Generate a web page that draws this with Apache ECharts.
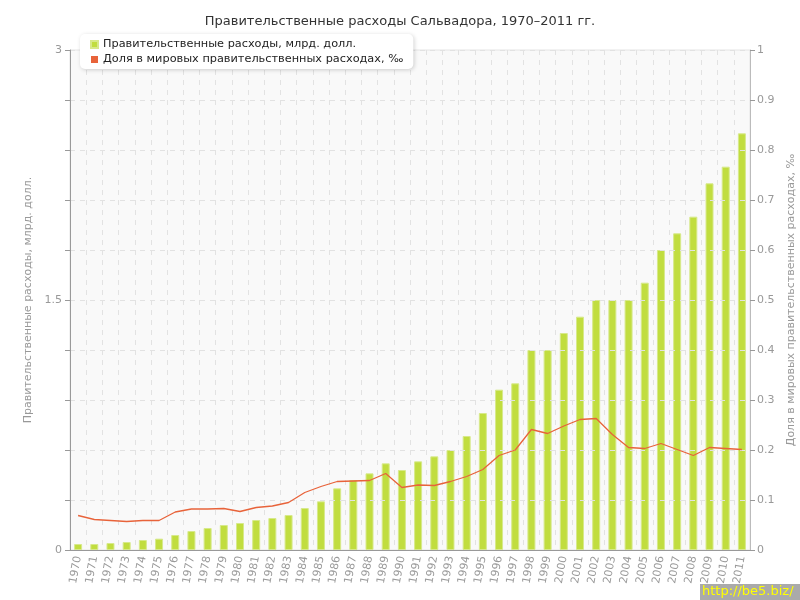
<!DOCTYPE html>
<html>
<head>
<meta charset="utf-8">
<script src="https://cdn.jsdelivr.net/npm/echarts@6/dist/echarts.min.js"></script>
<style>html,body{margin:0;padding:0;background:#fff}#c{width:800px;height:600px}</style>
</head>
<body>
<div id="c"></div>
<script>
var years = ['1970','1971','1972','1973','1974','1975','1976','1977','1978','1979',
             '1980','1981','1982','1983','1984','1985','1986','1987','1988','1989',
             '1990','1991','1992','1993','1994','1995','1996','1997','1998','1999',
             '2000','2001','2002','2003','2004','2005','2006','2007','2008','2009',
             '2010','2011'];
var spending = [0.036,0.036,0.042,0.048,0.06,0.068,0.09,0.114,0.132,0.15,
                0.162,0.18,0.192,0.21,0.252,0.292,0.37,0.42,0.46,0.52,
                0.48,0.532,0.562,0.6,0.684,0.822,0.962,1.0,1.2,1.2,
                1.302,1.4,1.5,1.5,1.5,1.604,1.8,1.9,2.0,2.2,
                2.3,2.5];
var share = [0.069,0.061,0.059,0.057,0.059,0.059,0.076,0.082,0.082,0.083,
             0.077,0.085,0.088,0.095,0.115,0.127,0.137,0.138,0.139,0.153,
             0.125,0.13,0.129,0.137,0.147,0.161,0.189,0.2,0.241,0.233,
             0.248,0.261,0.263,0.231,0.205,0.203,0.213,0.201,0.189,0.205,
             0.203,0.201];
var leftLabels = ['0','1.5','3'];
var seriesNames = ['Правительственные расходы, млрд. долл.','Доля в мировых правительственных расходах, ‰'];

var FONT = 'DejaVu Sans';
var chart = echarts.init(document.getElementById('c'), null, {renderer:'canvas'});
chart.setOption({
  animation: false,
  backgroundColor: '#ffffff',
  textStyle: {fontFamily: FONT},
  title: {
    text: 'Правительственные расходы Сальвадора, 1970–2011 гг.',
    left: 'center', top: 10,
    textStyle: {fontFamily: FONT, fontSize: 13, fontWeight: 'normal', color: '#333'}
  },
  legend: {
    data: seriesNames,
    orient: 'vertical',
    left: 80, top: 34,
    padding: [5, 10, 4, 10],
    itemGap: 4,
    itemWidth: 7, itemHeight: 7,
    icon: 'rect',
    backgroundColor: '#ffffff',
    borderRadius: 5,
    shadowBlur: 4, shadowColor: 'rgba(0,0,0,0.18)', shadowOffsetX: 1, shadowOffsetY: 1,
    textStyle: {fontFamily: FONT, fontSize: 11.3, color: '#222'},
    z: 10
  },
  grid: {
    left: 70, right: 50, top: 50, bottom: 50,
    outerBoundsMode: 'none', containLabel: false,
    show: true, backgroundColor: '#f9f9f9', borderColor: '#e4e4e4', borderWidth: 1
  },
  xAxis: {
    type: 'category', data: years, boundaryGap: true, z: 3,
    axisLine: {lineStyle: {color: '#999', width: 1}},
    axisTick: {alignWithLabel: true, length: 5, lineStyle: {color: '#999'}},
    axisLabel: {rotate: 80, interval: 0, color: '#999', fontSize: 11, fontFamily: FONT, margin: 6},
    splitLine: {show: true, interval: 0, lineStyle: {color: '#e2e2e2', type: [5, 5]}}
  },
  yAxis: [{
    type: 'value', min: 0, max: 3, interval: 0.3, position: 'left', z: 3,
    name: 'Правительственные расходы, млрд. долл.',
    nameLocation: 'middle', nameGap: 29,
    nameTextStyle: {color: '#999', fontSize: 11, fontFamily: FONT},
    axisLine: {show: true, lineStyle: {color: '#999'}},
    axisTick: {show: true, length: 5, lineStyle: {color: '#999'}},
    axisLabel: {color: '#999', fontSize: 11, fontFamily: FONT, margin: 8,
      formatter: function (v) {
        var s = String(Math.round(v * 10) / 10);
        return leftLabels.indexOf(s) >= 0 ? s : '';
      }},
    splitLine: {show: false}
  }, {
    type: 'value', min: 0, max: 1, interval: 0.1, position: 'right', z: 3,
    name: 'Доля в мировых правительственных расходах, ‰',
    nameLocation: 'middle', nameGap: 29, nameRotate: 90,
    nameTextStyle: {color: '#999', fontSize: 11, fontFamily: FONT},
    axisLine: {show: true, lineStyle: {color: '#bbb'}},
    axisTick: {show: true, length: 5, lineStyle: {color: '#999'}},
    axisLabel: {color: '#999', fontSize: 11, fontFamily: FONT, margin: 7,
      formatter: function (v) { return String(Math.round(v * 10) / 10); }},
    splitLine: {show: true, lineStyle: {color: '#e2e2e2', type: [5, 5]}}
  }],
  series: [{
    name: seriesNames[0], type: 'bar', yAxisIndex: 0, data: spending,
    barWidth: 8, z: 2,
    itemStyle: {color: '#c1dd3f', borderColor: '#d7e98a', borderWidth: 1}
  }, {
    name: seriesNames[1], type: 'line', yAxisIndex: 1, data: share,
    symbol: 'none', z: 5,
    itemStyle: {color: '#e8633a'},
    lineStyle: {color: '#e8633a', width: 1.3}
  }],
  graphic: [{
    type: 'group', right: 0, bottom: 0, z: 100,
    children: [
      {type: 'rect', shape: {x: 0, y: 0, width: 100, height: 16}, style: {fill: '#aaaaaa'}},
      {type: 'text', x: 2, y: 1, style: {text: 'http://be5.biz/', fill: '#ffff00', font: '13px ' + FONT}}
    ]
  }]
});
</script>
</body>
</html>
